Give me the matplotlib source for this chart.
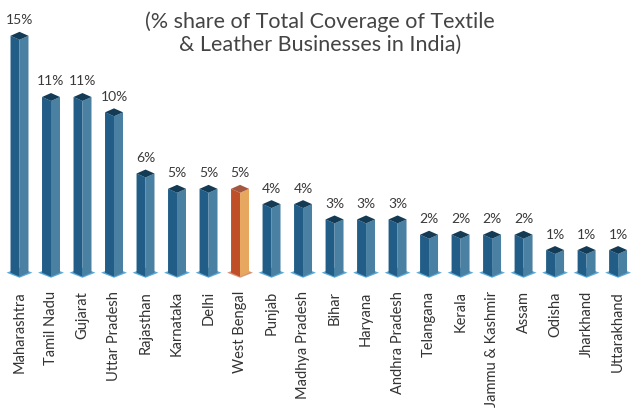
import numpy as np
import matplotlib
matplotlib.use("Agg")
import matplotlib.pyplot as plt
from matplotlib.patches import Polygon

plt.rcParams['font.family'] = ['Lato', 'DejaVu Sans']

states = ['Maharashtra', 'Tamil Nadu', 'Gujarat', 'Uttar Pradesh', 'Rajasthan',
          'Karnataka', 'Delhi', 'West Bengal', 'Punjab', 'Madhya Pradesh',
          'Bihar', 'Haryana', 'Andhra Pradesh', 'Telangana', 'Kerala',
          'Jammu & Kashmir', 'Assam', 'Odisha', 'Jharkhand', 'Uttarakhand']
share = [15, 11, 11, 10, 6, 5, 5, 5, 4, 4, 3, 3, 3, 2, 2, 2, 2, 1, 1, 1]
highlight = 'West Bengal'

# face colours: left, right, cap, floor
blue = ('#215d87', '#4a80a2', '#133b55', '#5aa9d8')
orange = ('#bf4f26', '#e7a75f', '#a4563f', '#d8917a')

fig = plt.figure(figsize=(6.31, 4.12), dpi=100)
ax = fig.add_axes([0, 125 / 412, 1, 287 / 412])

base = -0.48      # value axis starts a little below zero
w, d = 0.285, 0.26    # half width of a bar, depth of its cap
bw, bd = 0.41, 0.33   # floor tile

x = np.arange(len(states))
for cx, v, name in zip(x, share, states):
    cl, cr, ctop, cfl = orange if name == highlight else blue
    ax.add_patch(Polygon([(cx - bw, base), (cx, base + bd), (cx + bw, base), (cx, base - bd)],
                         closed=True, color=cfl, lw=0))
    ax.add_patch(Polygon([(cx - w, base), (cx, base - d), (cx, v - d), (cx - w, v)],
                         closed=True, color=cl, lw=0))
    ax.add_patch(Polygon([(cx + w, base), (cx, base - d), (cx, v - d), (cx + w, v)],
                         closed=True, color=cr, lw=0))
    ax.add_patch(Polygon([(cx - w, v), (cx, v + d), (cx + w, v), (cx, v - d)],
                         closed=True, color=ctop, lw=0))
    ax.annotate(f'{v}%', (cx, v + d), xytext=(0, 4), textcoords='offset points',
                ha='center', va='bottom', fontsize=10, color='#3a3a3a')

ax.set_xlim(-0.619, 19.41)
ax.set_ylim(base - 0.935, base + 17.82)
ax.set_xticks(x)
ax.set_xticklabels(states, rotation=90, fontsize=10.5, color='#333333')
ax.tick_params(axis='x', length=0, pad=3)
ax.set_yticks([])
for s in ax.spines.values():
    s.set_visible(False)

fig.text(320 / 631, 1 - 33 / 412,
         '(% share of Total Coverage of Textile\n& Leather Businesses in India)',
         ha='center', va='center', fontsize=15.5, color='#444444', linespacing=1.2)

fig.savefig('out.png', dpi=100)
